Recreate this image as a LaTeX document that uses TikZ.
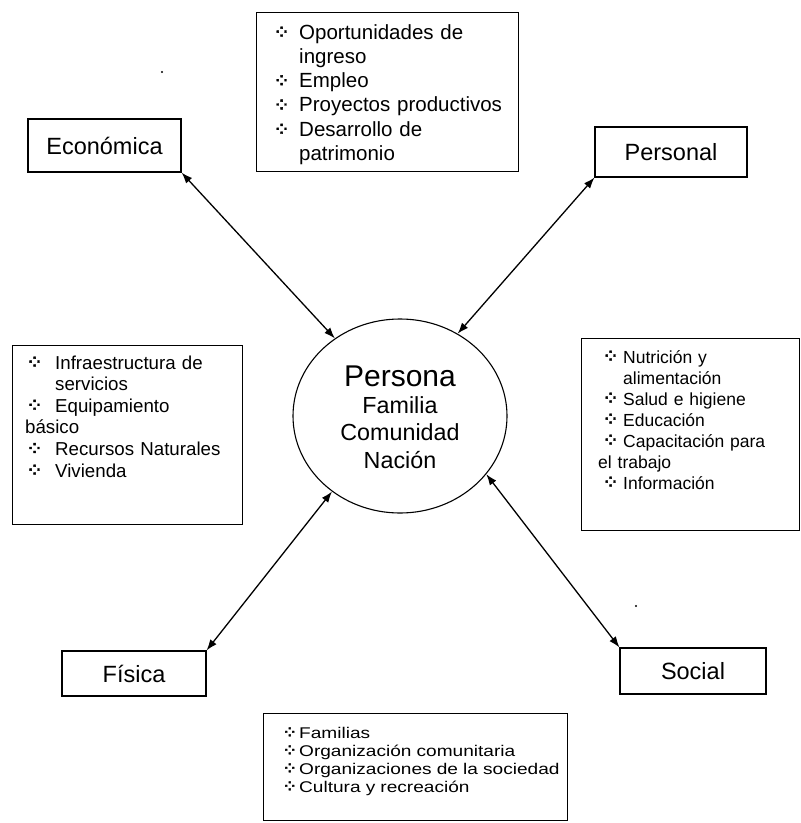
\documentclass[tikz,border=0pt]{standalone}
\usepackage{fontspec}
\setmainfont{Liberation Sans}
\newfontfamily\dotsfont[FakeBold=2]{DejaVu Sans}
\newfontfamily\widesans[FakeStretch=1.23]{Liberation Sans}
\usetikzlibrary{shapes.geometric,arrows.meta}

% font size and leading, both in bp
\newcommand\fsz[2]{\fontsize{#1bp}{#2bp}\selectfont}
% four-dot bullet in a box of width #1, shifted right by #2
\newcommand\dotbullet[2]{\makebox[#1bp][l]{\hspace*{#2bp}{\dotsfont\fsz{20}{20}⁘}}}
\newcommand\smalldotbullet[2]{\makebox[#1bp][l]{\hspace*{#2bp}{\dotsfont\fsz{18}{18}⁘}}}

\tikzset{
  box/.style={draw, line width=1.1bp, rectangle, inner sep=0pt},
  tagbox/.style={box, font=\fsz{23.5}{28}},
  itemtext/.style={anchor=base west, inner sep=0pt, text width=#1, align=left},
  link/.style={line width=1.3bp,
    {Latex[length=11bp,width=8bp]}-{Latex[length=11bp,width=8bp]}}
}

\begin{document}
\begin{tikzpicture}[x=1bp, y=-1bp]
\useasboundingbox (0,0) rectangle (801,823);

% centre
\node[draw, ellipse, line width=1.1bp, minimum width=214bp, minimum height=194bp,
      inner sep=0pt] (persona) at (400,416) {};
\node[anchor=base, inner sep=0pt, text width=200bp, align=center,
      font=\fsz{23.3}{27.4}] (core) at (400,386)
  {{\fsz{30}{27.4}Persona\par}Familia\\Comunidad\\Nación};

% the four dimensions
\node[tagbox, minimum width=153bp, minimum height=53bp] (eco)  at (104.5,145.5) {Económica};
\node[tagbox, minimum width=152bp, minimum height=50bp] (pers) at (671,152)   {Personal};
\node[tagbox, minimum width=144bp, minimum height=45bp] (fis)  at (134,673.5) {Física};
\node[tagbox, minimum width=146bp, minimum height=46bp] (soc)  at (693,671)   {Social};

% lists of components
\node[box, anchor=north west, minimum width=262bp, minimum height=159bp] (ecolist) at (256,12) {};
\node[itemtext=240bp, font=\fsz{20.5}{24.3}] (ecotext) at (273,39)
  {\dotbullet{26}{0}Oportunidades de\\
   \hspace*{26bp}ingreso\\
   \dotbullet{26}{0}Empleo\\
   \dotbullet{26}{0}Proyectos productivos\\
   \dotbullet{26}{0}Desarrollo de\\
   \hspace*{26bp}patrimonio};

\node[box, anchor=north west, minimum width=230bp, minimum height=179bp] (fislist) at (12,345) {};
\node[itemtext=215bp, font=\fsz{18.7}{21.6}] (fistext) at (25,369)
  {\dotbullet{30}{1}Infraestructura de\\
   \hspace*{30bp}servicios\\
   \dotbullet{30}{1}Equipamiento\\
   básico\\
   \dotbullet{30}{1}Recursos Naturales\\
   \dotbullet{30}{1}Vivienda};

\node[box, anchor=north west, minimum width=218bp, minimum height=192bp] (perslist) at (581,338) {};
\node[itemtext=200bp, font=\fsz{17.5}{21}] (perstext) at (598,363)
  {\dotbullet{25}{4}Nutrición y\\
   \hspace*{25bp}alimentación\\
   \dotbullet{25}{4}Salud e higiene\\
   \dotbullet{25}{4}Educación\\
   \dotbullet{25}{4}Capacitación para\\
   el trabajo\\
   \dotbullet{25}{4}Información};

\node[box, anchor=north west, minimum width=304bp, minimum height=107bp] (soclist) at (263,713) {};
\node[itemtext=300bp, font=\widesans\fsz{15.5}{18}] (soctext) at (282,738.5)
  {\smalldotbullet{17}{0}Familias\\
   \smalldotbullet{17}{0}Organización comunitaria\\
   \smalldotbullet{17}{0}Organizaciones de la sociedad\\
   \smalldotbullet{17}{0}Cultura y recreación};

% two-way links
\draw[link] (eco.south east)  -- (persona.130);
\draw[link] (pers.south west) -- (persona.55);
\draw[link] (fis.north east)  -- (persona.228);
\draw[link] (soc.north west)  -- (persona.326);

% specks
\fill (162,72) circle (1.2bp);
\fill (636,606) circle (1.2bp);
\end{tikzpicture}
\end{document}
